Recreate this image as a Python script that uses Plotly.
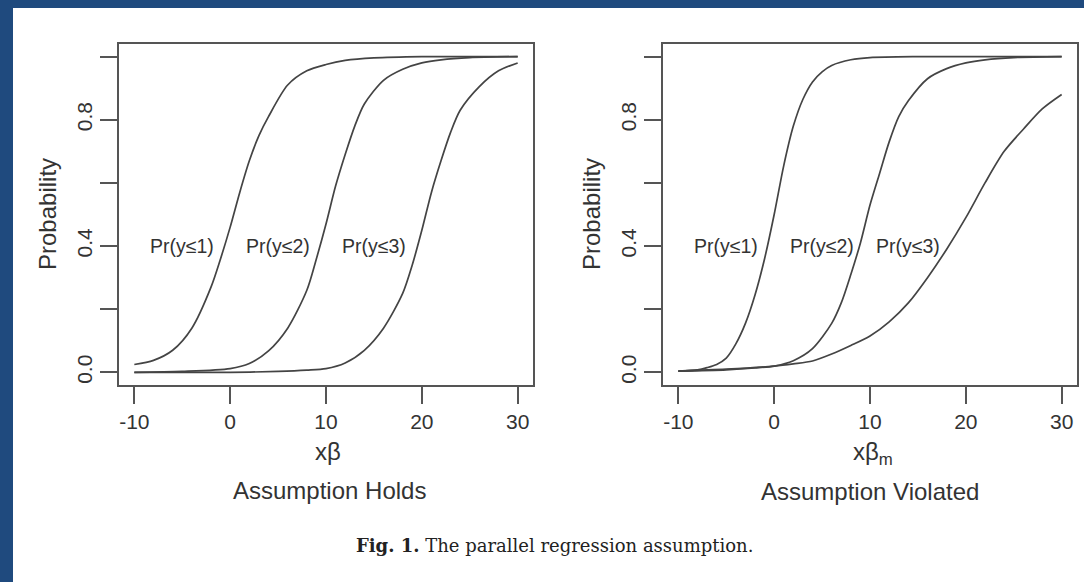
import plotly.graph_objects as go

# ---------------- data ----------------
# Left panel: "Assumption Holds"
holds_x1 = [-10, -8, -6, -4, -2, -1, 0, 1, 2, 3, 4, 6, 8, 10, 12, 15, 20, 25, 30]
holds_y1 = [0.025, 0.038, 0.07, 0.14, 0.27, 0.36, 0.46, 0.57, 0.67, 0.75, 0.81, 0.91, 0.955, 0.975, 0.988, 0.996, 1.0, 1.0, 1.0]

holds_x2 = [-10, -5, 0, 2, 4, 6, 8, 9, 10, 11, 12, 13, 14, 16, 18, 20, 22, 25, 30]
holds_y2 = [0.0, 0.003, 0.012, 0.028, 0.068, 0.14, 0.26, 0.36, 0.47, 0.59, 0.69, 0.78, 0.85, 0.925, 0.96, 0.98, 0.99, 0.997, 1.0]

holds_x3 = [-10, 0, 5, 8, 10, 12, 14, 16, 18, 19, 20, 21, 22, 23, 24, 26, 28, 30]
holds_y3 = [0.0, 0.0, 0.003, 0.007, 0.012, 0.03, 0.07, 0.14, 0.25, 0.34, 0.45, 0.57, 0.67, 0.76, 0.83, 0.905, 0.955, 0.98]

# Right panel: "Assumption Violated"
viol_x1 = [-10, -8, -7, -6, -5, -4, -3, -2, -1, 0, 1, 2, 3, 4, 5, 6, 8, 10, 15, 20, 25, 30]
viol_y1 = [0.004, 0.008, 0.015, 0.025, 0.045, 0.09, 0.155, 0.245, 0.36, 0.50, 0.655, 0.78, 0.865, 0.92, 0.952, 0.972, 0.99, 0.997, 1.0, 1.0, 1.0, 1.0]

viol_x2 = [-10, -5, -2, 0, 2, 4, 6, 7, 8, 9, 10, 11, 12, 13, 14, 16, 18, 20, 22, 25, 30]
viol_y2 = [0.004, 0.008, 0.014, 0.02, 0.037, 0.075, 0.155, 0.22, 0.31, 0.41, 0.53, 0.63, 0.73, 0.81, 0.86, 0.93, 0.962, 0.98, 0.99, 0.997, 1.0]

viol_x3 = [-10, -5, 0, 2, 4, 6, 8, 10, 12, 14, 16, 18, 20, 22, 24, 26, 28, 30]
viol_y3 = [0.004, 0.01, 0.02, 0.027, 0.036, 0.058, 0.085, 0.115, 0.16, 0.22, 0.30, 0.39, 0.49, 0.60, 0.70, 0.77, 0.835, 0.88]

curve_labels = ["Pr(y≤1)", "Pr(y≤2)", "Pr(y≤3)"]
label_x_holds = [-5, 5, 15]
label_x_viol = [-5, 5, 14]
label_y = 0.4

x_ticks = [-10, 0, 10, 20, 30]
x_ticktext = ["-10", "0", "10", "20", "30"]
y_ticks = [0.0, 0.4, 0.8]
y_ticktext = ["0.0", "0.4", "0.8"]
y_minor_ticks = [0.2, 0.6, 1.0]

# ---------------- figure ----------------
W, H = 1084, 582
def px(x):
    return x / W
def py(y):
    return 1 - y / H

LINE = "#444444"
AX = "#555555"
TXT = "#333333"
FONT = "Liberation Sans, Arial, sans-serif"

fig = go.Figure()
series = [
    (holds_x1, holds_y1, "x", "y"), (holds_x2, holds_y2, "x", "y"), (holds_x3, holds_y3, "x", "y"),
    (viol_x1, viol_y1, "x2", "y2"), (viol_x2, viol_y2, "x2", "y2"), (viol_x3, viol_y3, "x2", "y2"),
]
for xs, ys, xa, ya in series:
    fig.add_trace(go.Scatter(x=xs, y=ys, xaxis=xa, yaxis=ya, mode="lines",
                             line=dict(color=LINE, width=1.7, shape="spline", smoothing=0.8),
                             showlegend=False, hoverinfo="skip"))

xcommon = dict(range=[-11.6, 31.6], tickvals=x_ticks, ticktext=x_ticktext,
               ticks="outside", ticklen=17, tickwidth=2, tickcolor=AX,
               showline=True, mirror=True, linewidth=2, linecolor=AX,
               showgrid=False, zeroline=False,
               tickfont=dict(family=FONT, size=21, color=TXT))
ycommon = dict(range=[-0.04, 1.04], tickvals=y_ticks, ticktext=y_ticktext,
               ticks="outside", ticklen=17, tickwidth=2, tickcolor=AX,
               minor=dict(tickvals=y_minor_ticks, ticks="outside", ticklen=17,
                          tickwidth=2, tickcolor=AX, showgrid=False),
               showline=True, mirror=True, linewidth=2, linecolor=AX,
               showgrid=False, zeroline=False, tickangle=-90,
               tickfont=dict(family=FONT, size=21, color=TXT))

ydom = [py(385), py(44)]
fig.update_layout(
    width=W, height=H, margin=dict(l=0, r=0, t=0, b=0),
    paper_bgcolor="white", plot_bgcolor="white",
    xaxis=dict(domain=[px(119), px(533)], anchor="y", **xcommon),
    yaxis=dict(domain=ydom, anchor="x", **ycommon),
    xaxis2=dict(domain=[px(663), px(1077)], anchor="y2", **xcommon),
    yaxis2=dict(domain=ydom, anchor="x2", **ycommon),
)

ann = []
for lab, lx in zip(curve_labels, label_x_holds):
    ann.append(dict(x=lx, y=label_y, xref="x", yref="y", text=lab, showarrow=False,
                    font=dict(family=FONT, size=19.5, color=TXT)))
for lab, lx in zip(curve_labels, label_x_viol):
    ann.append(dict(x=lx, y=label_y, xref="x2", yref="y2", text=lab, showarrow=False,
                    font=dict(family=FONT, size=19.5, color=TXT)))

def ptext(text, x, y, size=24, angle=0, family=FONT, color=TXT):
    return dict(x=px(x), y=py(y), xref="paper", yref="paper", text=text, showarrow=False,
                textangle=angle, xanchor="center", yanchor="middle",
                font=dict(family=family, size=size, color=color))

ann += [
    ptext("Probability", 47, 214, angle=-90),
    ptext("Probability", 591, 214, angle=-90),
    ptext("xβ", 328, 451),
    ptext("xβ<sub>m</sub>", 873, 453),
    ptext("Assumption Holds", 329, 490),
    ptext("Assumption Violated", 870, 491),
    ptext("<b>Fig. 1.</b> The parallel regression assumption.", 554, 545, size=18,
          family="DejaVu Serif, serif", color="#222222"),
]
fig.update_layout(annotations=ann)

BLUE = "#1F4A7E"
fig.update_layout(shapes=[
    dict(type="rect", xref="paper", yref="paper", x0=0, x1=1, y0=py(8), y1=1,
         fillcolor=BLUE, line=dict(width=0)),
    dict(type="rect", xref="paper", yref="paper", x0=0, x1=px(13), y0=0, y1=1,
         fillcolor=BLUE, line=dict(width=0)),
])

fig.write_html(
    "out.html",
    config={"displayModeBar": False},
    post_script=(
        "document.body.style.margin='0';"
        "document.body.style.padding='0';"
        "document.documentElement.style.overflow='hidden';"
        "document.body.style.overflow='hidden';"
    ),
)
